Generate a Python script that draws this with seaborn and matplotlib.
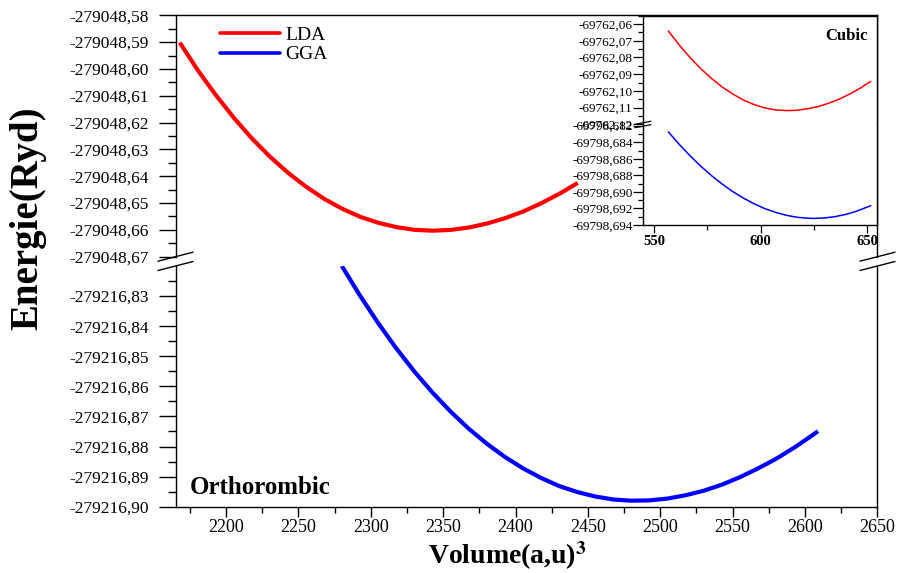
import matplotlib
matplotlib.use("Agg")
import matplotlib.pyplot as plt
import seaborn as sns
import pandas as pd
from matplotlib.ticker import FixedLocator, FuncFormatter
from matplotlib.lines import Line2D

# ---------------- data ----------------
lda_ortho_volume = [2168, 2180.5, 2193, 2205.5, 2218, 2230.5, 2243, 2255.5, 2268, 2280.5, 2293,
                    2305.5, 2318, 2330.5, 2343, 2355.5, 2368, 2380.5, 2393, 2405.5, 2418,
                    2430.5, 2443]
lda_ortho_energy = [-279048.5902, -279048.6005, -279048.6098, -279048.6183, -279048.6260,
                    -279048.6328, -279048.6388, -279048.6440, -279048.6485, -279048.6522,
                    -279048.6552, -279048.6574, -279048.6590, -279048.6600, -279048.6603,
                    -279048.6600, -279048.6591, -279048.6576, -279048.6556, -279048.6531,
                    -279048.6500, -279048.6465, -279048.6425]

gga_ortho_volume = [2280, 2292.5, 2305, 2317.5, 2330, 2342.5, 2355, 2367.5, 2380, 2392.5,
                    2405, 2417.5, 2430, 2442.5, 2455, 2467.5, 2480, 2492.5, 2505, 2517.5,
                    2530, 2542.5, 2555, 2567.5, 2580, 2592.5, 2605, 2609]
gga_ortho_energy = [-279216.8200, -279216.8298, -279216.8389, -279216.8473, -279216.8550,
                    -279216.8620, -279216.8683, -279216.8740, -279216.8790, -279216.8834,
                    -279216.8872, -279216.8904, -279216.8931, -279216.8951, -279216.8966,
                    -279216.8976, -279216.8980, -279216.8979, -279216.8973, -279216.8962,
                    -279216.8947, -279216.8927, -279216.8902, -279216.8873, -279216.8841,
                    -279216.8804, -279216.8763, -279216.8749]

lda_cubic_volume = [556.7, 562, 567, 572, 577, 582, 587, 592, 597, 602, 607, 612.3,
                    617, 622, 627, 632, 637, 642, 647, 651.7]
lda_cubic_energy = [-69762.0642, -69762.0728, -69762.0802, -69762.0868, -69762.0926,
                    -69762.0977, -69762.1019, -69762.1055, -69762.1082, -69762.1102,
                    -69762.1114, -69762.1118, -69762.1116, -69762.1107, -69762.1094,
                    -69762.1074, -69762.1049, -69762.1018, -69762.0982, -69762.0943]

gga_cubic_volume = [556.7, 562, 567, 572, 577, 582, 587, 592, 597, 602, 607, 612, 617, 622,
                    625, 630, 635, 640, 645, 651.7]
gga_cubic_energy = [-69798.68275, -69798.68431, -69798.68566, -69798.68691, -69798.68804,
                    -69798.68906, -69798.68997, -69798.69076, -69798.69144, -69798.69202,
                    -69798.69247, -69798.69282, -69798.69306, -69798.69318, -69798.69320,
                    -69798.69315, -69798.69299, -69798.69272, -69798.69234, -69798.69167]

# tick values / labels
x_major = [2200, 2250, 2300, 2350, 2400, 2450, 2500, 2550, 2600, 2650]
x_minor = [2175, 2225, 2275, 2325, 2375, 2425, 2475, 2525, 2575, 2625]
top_major = [-279048.58, -279048.59, -279048.60, -279048.61, -279048.62,
             -279048.63, -279048.64, -279048.65, -279048.66, -279048.67]
bot_major = [-279216.83, -279216.84, -279216.85, -279216.86, -279216.87,
             -279216.88, -279216.89, -279216.90]
in_x_major = [550, 600, 650]
in_x_minor = [575, 625]
in_top_major = [-69762.06, -69762.07, -69762.08, -69762.09, -69762.10, -69762.11, -69762.12]
in_bot_major = [-69798.682, -69798.684, -69798.686, -69798.688, -69798.690, -69798.692, -69798.694]

series_names = ["LDA", "GGA"]
RED = "#FF0000"
BLUE = "#0000FF"

# ---------------- style ----------------
sns.set_style("ticks")
plt.rcParams["font.family"] = ["Liberation Serif", "DejaVu Serif"]
plt.rcParams["mathtext.fontset"] = "stix"
plt.rcParams["axes.linewidth"] = 1.0
plt.rcParams["axes.unicode_minus"] = False
for k in ("text.color", "axes.labelcolor", "xtick.color", "ytick.color", "axes.edgecolor"):
    plt.rcParams[k] = "black"

W, H = 901, 573
fig = plt.figure(figsize=(W / 100, H / 100), dpi=100)


def box(x0, y0, x1, y1):
    return [x0 / W, 1 - y1 / H, (x1 - x0) / W, (y1 - y0) / H]


def comma_fmt(d):
    return FuncFormatter(lambda v, p: f"{v:.{d}f}".replace(".", ","))


def minor_between(vals):
    s = sorted(vals)
    return [(a + b) / 2 for a, b in zip(s[:-1], s[1:])]


ax_top = fig.add_axes(box(175.7, 15.3, 877.3, 256.7))
ax_bot = fig.add_axes(box(175.7, 266.0, 877.3, 506.7))
in_top = fig.add_axes(box(643.0, 15.7, 877.3, 124.3))
in_bot = fig.add_axes(box(643.0, 125.7, 877.3, 225.0))

df_lda = pd.DataFrame({"V": lda_ortho_volume, "E": lda_ortho_energy})
df_gga = pd.DataFrame({"V": gga_ortho_volume, "E": gga_ortho_energy})
df_clda = pd.DataFrame({"V": lda_cubic_volume, "E": lda_cubic_energy})
df_cgga = pd.DataFrame({"V": gga_cubic_volume, "E": gga_cubic_energy})

sns.lineplot(data=df_lda, x="V", y="E", ax=ax_top, color=RED, lw=3.0, sort=False,
             estimator=None, solid_joinstyle="round", solid_capstyle="butt")
sns.lineplot(data=df_gga, x="V", y="E", ax=ax_bot, color=BLUE, lw=3.0, sort=False,
             estimator=None, solid_joinstyle="round", solid_capstyle="butt")
sns.lineplot(data=df_clda, x="V", y="E", ax=in_top, color=RED, lw=1.1, sort=False, estimator=None)
sns.lineplot(data=df_cgga, x="V", y="E", ax=in_bot, color=BLUE, lw=1.1, sort=False, estimator=None)

# ---- main axes ----
for ax in (ax_top, ax_bot):
    ax.set_xlim(2165.2, 2650)
    ax.set_xlabel("")
    ax.set_ylabel("")
    ax.xaxis.set_major_locator(FixedLocator(x_major))
    ax.xaxis.set_minor_locator(FixedLocator(x_minor))
    for s in ax.spines.values():
        s.set_color("black")
        s.set_linewidth(1.0)
    ax.tick_params(axis="y", which="major", length=12.5, width=1.0, direction="out",
                   pad=7, labelsize=12.5, colors="black")
    ax.tick_params(axis="y", which="minor", length=5.5, width=1.0, direction="out")
    ax.yaxis.set_major_formatter(comma_fmt(2))

ax_top.set_ylim(-279048.67, -279048.58)
ax_top.yaxis.set_major_locator(FixedLocator(top_major))
ax_top.yaxis.set_minor_locator(FixedLocator(minor_between(top_major)))
ax_top.spines["bottom"].set_visible(False)
ax_top.tick_params(axis="x", which="both", bottom=False, labelbottom=False)

ax_bot.set_ylim(-279216.90, -279216.82)
ax_bot.yaxis.set_major_locator(FixedLocator(bot_major))
ax_bot.yaxis.set_minor_locator(FixedLocator(minor_between(bot_major + [-279216.82])))
ax_bot.spines["top"].set_visible(False)
ax_bot.xaxis.set_major_formatter(FuncFormatter(lambda v, p: f"{v:.0f}"))
ax_bot.tick_params(axis="x", which="major", length=7, width=1.0, direction="out",
                   pad=2, labelsize=13)
ax_bot.tick_params(axis="x", which="minor", length=4, width=1.0, direction="out")

# legend
leg_handles = [Line2D([], [], color=RED, lw=2.6), Line2D([], [], color=BLUE, lw=2.6)]
ax_top.legend(leg_handles, series_names, loc="upper left", bbox_to_anchor=(0.063, 0.955),
              frameon=False, fontsize=14, handlelength=3.1, handletextpad=0.25,
              labelspacing=0.1, borderpad=0, borderaxespad=0)

ax_bot.text(0.0204, 0.078, "Orthorombic", transform=ax_bot.transAxes, fontsize=18,
            fontweight="bold", ha="left", va="center")

# ---- inset ----
for ax in (in_top, in_bot):
    ax.set_xlim(544.8, 654.8)
    ax.set_xlabel("")
    ax.set_ylabel("")
    ax.set_facecolor("white")
    ax.xaxis.set_major_locator(FixedLocator(in_x_major))
    ax.xaxis.set_minor_locator(FixedLocator(in_x_minor))
    for s in ax.spines.values():
        s.set_color("black")
        s.set_linewidth(1.0)
    ax.tick_params(axis="y", which="major", length=7, width=0.9, direction="out",
                   pad=0.5, labelsize=9.5)
    ax.tick_params(axis="y", which="minor", length=3.5, width=0.9, direction="out")

in_top.set_ylim(-69762.12, -69762.055)
in_top.yaxis.set_major_locator(FixedLocator(in_top_major))
in_top.yaxis.set_minor_locator(FixedLocator(minor_between(in_top_major + [-69762.05])))
in_top.yaxis.set_major_formatter(comma_fmt(2))
in_top.spines["bottom"].set_visible(False)
in_top.tick_params(axis="x", which="both", bottom=False, labelbottom=False)

in_bot.set_ylim(-69798.694, -69798.682)
in_bot.yaxis.set_major_locator(FixedLocator(in_bot_major))
in_bot.yaxis.set_minor_locator(FixedLocator(minor_between(in_bot_major)))
in_bot.yaxis.set_major_formatter(comma_fmt(3))
in_bot.spines["top"].set_visible(False)
in_bot.xaxis.set_major_formatter(FuncFormatter(lambda v, p: f"{v:.0f}"))
in_bot.tick_params(axis="x", which="major", length=6, width=0.9, direction="out",
                   pad=1.5, labelsize=10.5)
in_bot.tick_params(axis="x", which="minor", length=3.5, width=0.9, direction="out")
for t in in_bot.get_xticklabels():
    t.set_fontweight("bold")

in_top.text(0.96, 0.813, "Cubic", transform=in_top.transAxes, fontsize=12,
            fontweight="bold", ha="right", va="center")


# ---- break marks ----
def brk(x0, x1, y, rise, lw=1.0):
    fig.add_artist(Line2D([x0 / W, x1 / W], [1 - (y + rise / 2) / H, 1 - (y - rise / 2) / H],
                          color="black", lw=lw, transform=fig.transFigure))


for yb in (256.7, 266.0):
    brk(158, 193, yb, 9)
    brk(860, 895, yb, 9)
for yb in (122.8, 126.2):
    brk(635, 651, yb, 3, lw=0.9)

# ---- axis titles ----
fig.text(28 / W, 1 - 218 / H, "Energie(Ryd)", rotation=90, fontsize=28, fontweight="bold",
         ha="center", va="center")
fig.text(507 / W, 1 - 556 / H, r"Volume(a,u)$^{\mathbf{3}}$", fontsize=20, fontweight="bold",
         ha="center", va="center")

fig.savefig("out.png", dpi=100)
